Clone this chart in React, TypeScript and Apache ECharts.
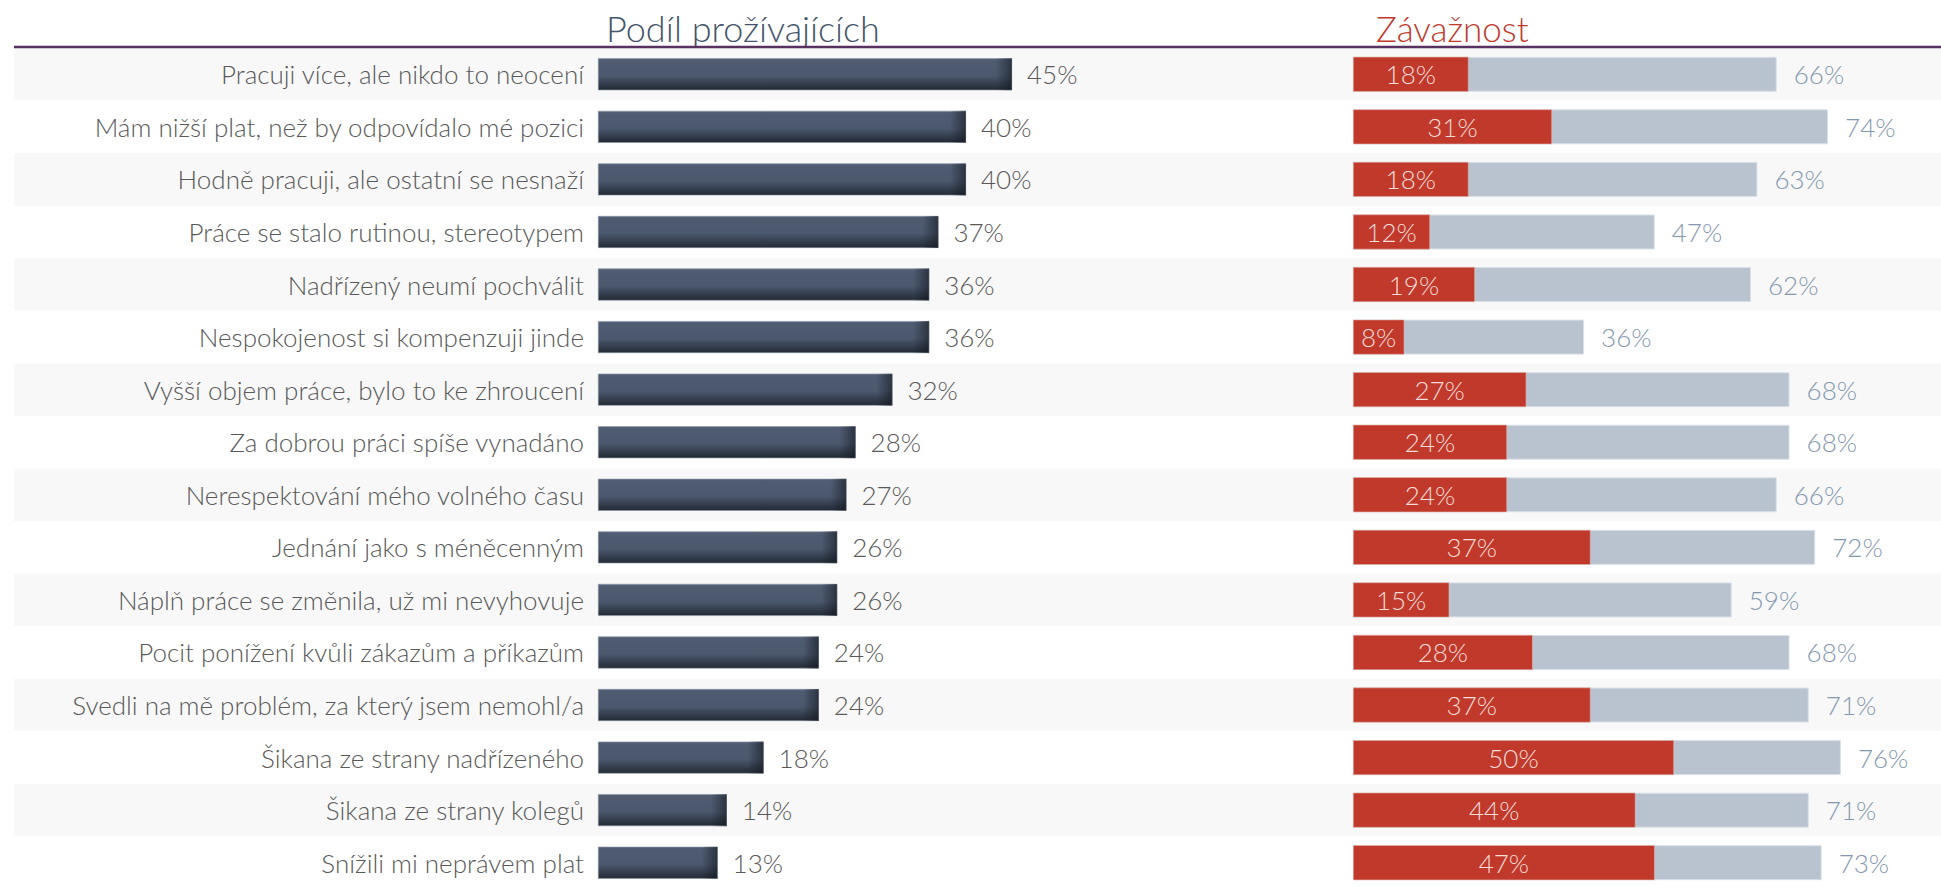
import React, { useEffect, useRef } from "react";
import * as echarts from "echarts";

const categories = [
  "Pracuji více, ale nikdo to neocení",
  "Mám nižší plat, než by odpovídalo mé pozici",
  "Hodně pracuji, ale ostatní se nesnaží",
  "Práce se stalo rutinou, stereotypem",
  "Nadřízený neumí pochválit",
  "Nespokojenost si kompenzuji jinde",
  "Vyšší objem práce, bylo to ke zhroucení",
  "Za dobrou práci spíše vynadáno",
  "Nerespektování mého volného času",
  "Jednání jako s méněcenným",
  "Náplň práce se změnila, už mi nevyhovuje",
  "Pocit ponížení kvůli zákazům a příkazům",
  "Svedli na mě problém, za který jsem nemohl/a",
  "Šikana ze strany nadřízeného",
  "Šikana ze strany kolegů",
  "Snížili mi neprávem plat",
];
const shareValues = [45, 40, 40, 37, 36, 36, 32, 28, 27, 26, 26, 24, 24, 18, 14, 13];
const severeValues = [18, 31, 18, 12, 19, 8, 27, 24, 24, 37, 15, 28, 37, 50, 44, 47];
const severityTotalValues = [66, 74, 63, 47, 62, 36, 68, 68, 66, 72, 59, 68, 71, 76, 71, 73];
const leftTitle = "Podíl prožívajících";
const rightTitle = "Závažnost";

const FONT = "Lato";
const pct = (p: any) => `${p.value}%`;

export default function App() {
  const ref = useRef<HTMLDivElement>(null);
  useEffect(() => {
    if (!ref.current) return;
    const chart = echarts.init(ref.current, undefined, { renderer: "svg" });
    const top = 48;
    const height = 847;
    const leftW = 460;
    const leftMax = 50;
    const pxPerLeft = leftW / leftMax;
    chart.setOption({
      animation: false,
      backgroundColor: "#ffffff",
      textStyle: { fontFamily: FONT },
      graphic: [
        {
          type: "text",
          x: 606,
          y: 28,
          style: {
            text: leftTitle,
            fontFamily: FONT,
            fontWeight: 300,
            fontSize: 36,
            fill: "#44546a",
            verticalAlign: "middle",
          },
        },
        {
          type: "text",
          x: 1376,
          y: 28,
          style: {
            text: rightTitle,
            fontFamily: FONT,
            fontWeight: 300,
            fontSize: 35,
            fill: "#c0392b",
            verticalAlign: "middle",
          },
        },
        {
          type: "line",
          shape: { x1: 14, y1: 47, x2: 1941, y2: 47 },
          style: { stroke: "#573160", lineWidth: 2.5 },
          z: 10,
        },
      ],
      grid: [
        { left: 14, right: 0, top, height },
        { left: 598, width: leftW, top, height },
        { left: 1353, width: 513.6, top, height },
      ],
      xAxis: [
        { gridIndex: 0, type: "value", show: false, min: 0, max: 1 },
        { gridIndex: 1, type: "value", show: false, min: 0, max: leftMax },
        { gridIndex: 2, type: "value", show: false, min: 0, max: 80 },
      ],
      yAxis: [
        {
          gridIndex: 0,
          type: "category",
          inverse: true,
          data: categories,
          axisLine: { show: false },
          axisTick: { show: false },
          axisLabel: { show: false },
          splitArea: { show: true, areaStyle: { color: ["#f8f8f8", "#ffffff"] } },
        },
        {
          gridIndex: 1,
          type: "category",
          inverse: true,
          data: categories,
          axisLine: { show: false },
          axisTick: { show: false },
          axisLabel: {
            margin: 14,
            fontSize: 26,
            fontFamily: FONT,
            fontWeight: 300,
            color: "#595959",
          },
        },
        {
          gridIndex: 2,
          type: "category",
          inverse: true,
          data: categories,
          axisLine: { show: false },
          axisTick: { show: false },
          axisLabel: { show: false },
        },
      ],
      series: [
        {
          type: "bar",
          xAxisIndex: 1,
          yAxisIndex: 1,
          data: shareValues,
          barWidth: 32,
          barGap: "-100%",
          itemStyle: {
            color: new echarts.graphic.LinearGradient(0, 0, 0, 1, [
              { offset: 0, color: "#56637a" },
              { offset: 0.08, color: "#4e5b71" },
              { offset: 0.55, color: "#4b586d" },
              { offset: 1, color: "#232a35" },
            ]),
            borderColor: "#8a94a5",
            borderWidth: 0.6,
          },
          label: {
            show: true,
            position: "right",
            distance: 15,
            fontSize: 26,
            fontFamily: FONT,
            fontWeight: 300,
            color: "#595959",
            formatter: pct,
          },
          z: 3,
        },
        {
          type: "bar",
          xAxisIndex: 1,
          yAxisIndex: 1,
          barWidth: 32,
          barGap: "-100%",
          silent: true,
          data: shareValues.map((v) => {
            const k = Math.min(0.9, 16 / (v * pxPerLeft));
            return {
              value: v,
              itemStyle: {
                color: new echarts.graphic.LinearGradient(0, 0, 1, 0, [
                  { offset: 0, color: "rgba(20,24,32,0)" },
                  { offset: 1 - k, color: "rgba(20,24,32,0)" },
                  { offset: 1, color: "rgba(20,24,32,0.6)" },
                ]),
              },
            };
          }),
          label: { show: false },
          z: 4,
        },
        {
          type: "bar",
          xAxisIndex: 2,
          yAxisIndex: 2,
          data: severityTotalValues,
          barWidth: 35,
          barGap: "-100%",
          itemStyle: { color: "#b9c3cf", borderColor: "#dbe1e8", borderWidth: 1 },
          label: {
            show: true,
            position: "right",
            distance: 17,
            fontSize: 26,
            fontFamily: FONT,
            fontWeight: 300,
            color: "#8497b0",
            formatter: pct,
          },
          z: 3,
        },
        {
          type: "bar",
          xAxisIndex: 2,
          yAxisIndex: 2,
          data: severeValues,
          barWidth: 35,
          barGap: "-100%",
          itemStyle: { color: "#c0392b", borderColor: "#e3b8b2", borderWidth: 0.6 },
          label: {
            show: true,
            position: "inside",
            fontSize: 26,
            fontFamily: FONT,
            fontWeight: 300,
            color: "#f7dcd8",
            formatter: pct,
          },
          z: 4,
        },
      ],
    });
    return () => chart.dispose();
  }, []);
  return (
    <div
      ref={ref}
      style={{ position: "fixed", left: 0, top: 0, width: 1941, height: 889 }}
    />
  );
}
